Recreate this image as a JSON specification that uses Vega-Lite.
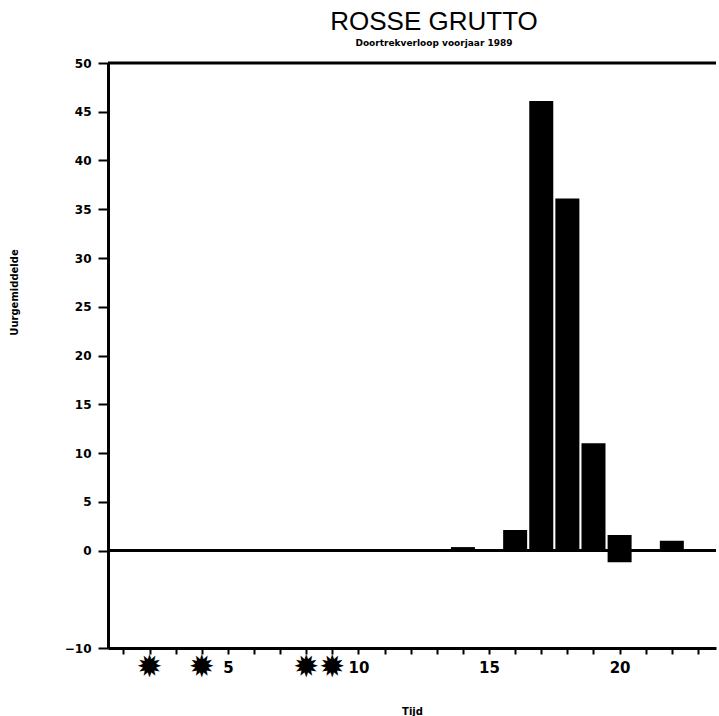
{
  "$schema": "https://vega.github.io/schema/vega-lite/v6.json",
  "autosize": "none",
  "width": 608,
  "height": 585,
  "padding": {"left": 108, "top": 63, "right": 3, "bottom": 68},
  "background": "white",
  "config": {
    "view": {"stroke": null},
    "axis": {"labelOverlap": false, "labelFlush": false, "grid": false}
  },
  "title": {
    "text": "ROSSE GRUTTO",
    "subtitle": "Doortrekverloop voorjaar 1989",
    "anchor": "middle",
    "dx": 22,
    "offset": 9,
    "font": "Liberation Sans",
    "fontSize": 26,
    "fontWeight": "normal",
    "color": "black",
    "subtitleFont": "DejaVu Sans",
    "subtitleFontSize": 9,
    "subtitleFontWeight": "bold",
    "subtitleColor": "black",
    "subtitlePadding": 4
  },
  "datasets": {
    "bars": [
      {"tijd": 14, "lo": 0, "hi": 0.35},
      {"tijd": 16, "lo": 0, "hi": 2.1},
      {"tijd": 17, "lo": 0, "hi": 46.1},
      {"tijd": 18, "lo": 0, "hi": 36.1},
      {"tijd": 19, "lo": 0, "hi": 11},
      {"tijd": 20, "lo": -1.2, "hi": 1.6},
      {"tijd": 22, "lo": 0, "hi": 1.0}
    ],
    "lines": [
      {"level": 0},
      {"level": 50}
    ],
    "stars": [
      {"tijd": 2, "pos": -12.1},
      {"tijd": 4, "pos": -12.1},
      {"tijd": 8, "pos": -12.1},
      {"tijd": 9, "pos": -12.1}
    ]
  },
  "layer": [
    {
      "data": {"name": "bars"},
      "mark": {"type": "bar", "color": "black", "size": 24, "cornerRadius": 0},
      "encoding": {
        "x": {
          "field": "tijd",
          "type": "quantitative",
          "scale": {"domain": [0.6, 23.5], "nice": false, "zero": false},
          "axis": {
            "title": "Tijd",
            "titleFont": "DejaVu Sans",
            "titleFontSize": 10,
            "titleFontWeight": "bold",
            "titleColor": "black",
            "titleY": 58,
            "values": [1,2,3,4,5,6,7,8,9,10,11,12,13,14,15,16,17,18,19,20,21,22,23],
            "labelExpr": "datum.value % 5 == 0 ? datum.label : ''",
            "labelFont": "DejaVu Sans",
            "labelFontSize": 15,
            "labelFontWeight": "bold",
            "labelColor": "black",
            "labelPadding": 6,
            "labelFlush": false,
            "labelOverlap": false,
            "domainColor": "black",
            "domainWidth": 3,
            "tickColor": "black",
            "tickWidth": 2,
            "tickSize": 6,
            "grid": false
          }
        },
        "y": {
          "field": "hi",
          "type": "quantitative",
          "scale": {"domain": [-10, 50], "nice": false, "zero": false},
          "axis": {
            "title": "Uurgemiddelde",
            "titleFont": "DejaVu Sans",
            "titleFontSize": 10,
            "titleFontWeight": "bold",
            "titleColor": "black",
            "titleX": -94,
            "titleY": 229,
            "titleAlign": "center",
            "titleBaseline": "middle",
            "values": [-10, 0, 5, 10, 15, 20, 25, 30, 35, 40, 45, 50],
            "labelFont": "DejaVu Sans",
            "labelFontSize": 12,
            "labelFontWeight": "bold",
            "labelColor": "black",
            "labelPadding": 7,
            "labelFlush": false,
            "labelOverlap": false,
            "domainColor": "black",
            "domainWidth": 3,
            "tickColor": "black",
            "tickWidth": 2,
            "tickSize": 10,
            "grid": false
          }
        },
        "y2": {"field": "lo"}
      }
    },
    {
      "data": {"name": "lines"},
      "mark": {"type": "rule", "color": "black", "strokeWidth": 3},
      "encoding": {"y": {"field": "level", "type": "quantitative"}}
    },
    {
      "data": {"name": "stars"},
      "mark": {"type": "text", "text": "✹", "fontSize": 31, "font": "DejaVu Sans", "color": "black", "baseline": "middle", "align": "center"},
      "encoding": {
        "x": {
          "field": "tijd",
          "type": "quantitative",
          "axis": {
            "title": "Tijd",
            "titleFont": "DejaVu Sans",
            "titleFontSize": 10,
            "titleFontWeight": "bold",
            "titleColor": "black",
            "titleY": 58,
            "values": [1,2,3,4,5,6,7,8,9,10,11,12,13,14,15,16,17,18,19,20,21,22,23],
            "labelExpr": "datum.value % 5 == 0 ? datum.label : ''",
            "labelFont": "DejaVu Sans",
            "labelFontSize": 15,
            "labelFontWeight": "bold",
            "labelColor": "black",
            "labelPadding": 6,
            "labelFlush": false,
            "labelOverlap": false,
            "domainColor": "black",
            "domainWidth": 3,
            "tickColor": "black",
            "tickWidth": 2,
            "tickSize": 6,
            "grid": false
          }
        },
        "y": {"field": "pos", "type": "quantitative"}
      }
    }
  ]
}
